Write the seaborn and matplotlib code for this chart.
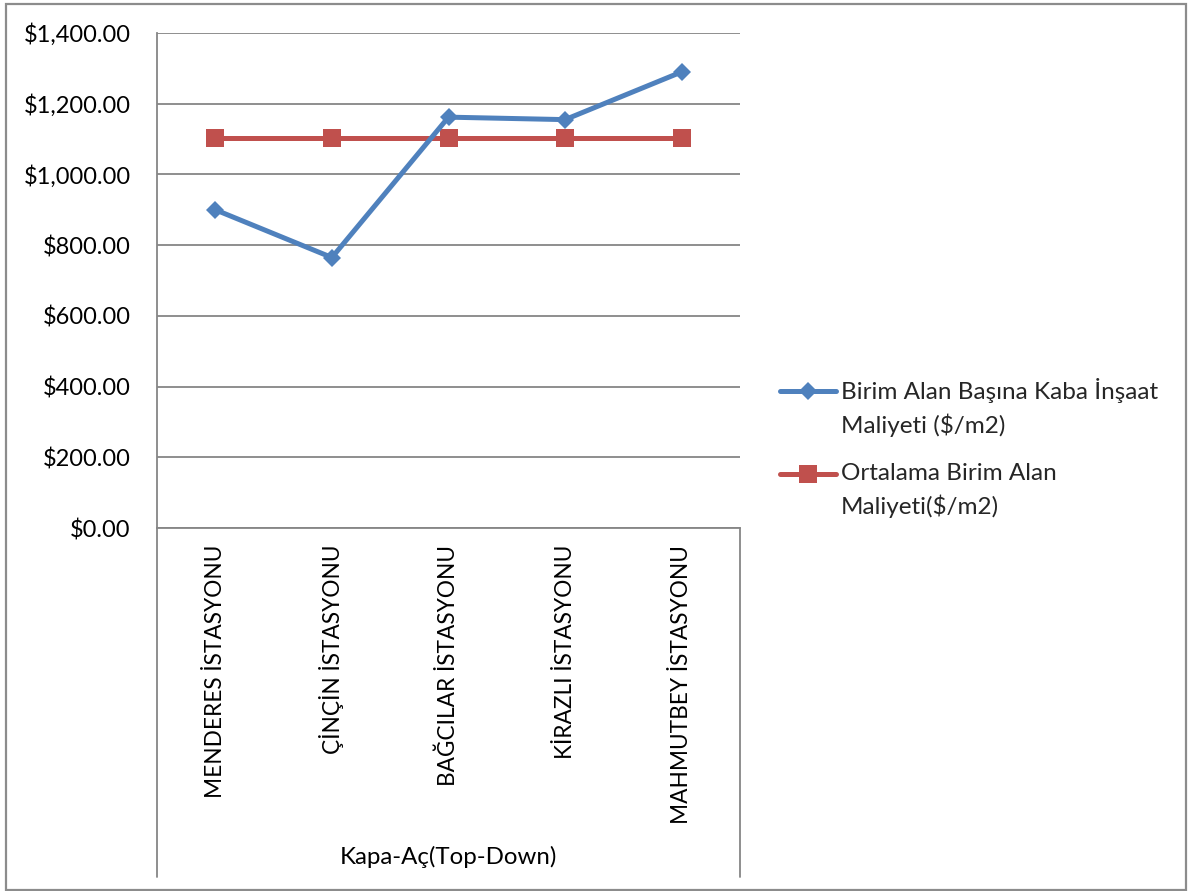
import matplotlib
matplotlib.use("Agg")
import matplotlib.pyplot as plt
import matplotlib.ticker as mticker
from matplotlib.lines import Line2D
from matplotlib.patches import Rectangle
from matplotlib.legend_handler import HandlerLine2D
import seaborn as sns

stations = ["MENDERES İSTASYONU", "ÇİNÇİN İSTASYONU", "BAĞCILAR İSTASYONU",
            "KİRAZLI İSTASYONU", "MAHMUTBEY İSTASYONU"]
unit_cost = [900, 765, 1162, 1155, 1290]
avg_cost = [1104, 1104, 1104, 1104, 1104]
series_names = ["Birim Alan Başına Kaba İnşaat\nMaliyeti ($/m2)",
                "Ortalama Birim Alan\nMaliyeti($/m2)"]
x_title = "Kapa-Aç(Top-Down)"
y_ticks = [0, 200, 400, 600, 800, 1000, 1200, 1400]

BLUE = "#4F81BD"
RED = "#C0504D"
GRID = "#868686"

sns.set_theme(style="white")
plt.rcParams["font.family"] = ["Lato", "DejaVu Sans"]

W, H = 1198, 891
fig = plt.figure(figsize=(W / 100, H / 100), dpi=100)
fig.patch.set_facecolor("white")

# plot area in pixel coordinates: x 157..740, y 33..528
left, right, top, bottom = 157, 740, 33, 528
ax = fig.add_axes([left / W, 1 - bottom / H, (right - left) / W, (bottom - top) / H])

sns.lineplot(x=stations, y=unit_cost, ax=ax, color=BLUE, lw=3.6, marker="D",
             markersize=9.5, markeredgewidth=0, label=series_names[0],
             zorder=4)
sns.lineplot(x=stations, y=avg_cost, ax=ax, color=RED, lw=3.6, marker="s",
             markersize=13.5, markeredgewidth=0, label=series_names[1],
             zorder=3)

ax.set_xlim(-0.5, len(stations) - 0.5)
ax.set_ylim(0, 1400)
ax.set_yticks(y_ticks)
ax.yaxis.set_major_formatter(mticker.FuncFormatter(lambda v, p: f"${v:,.2f}"))
ax.grid(axis="y", color=GRID, lw=1.3)
ax.grid(axis="x", visible=False)
ax.set_axisbelow(True)

for s in ["top", "right"]:
    ax.spines[s].set_visible(False)
for s in ["left", "bottom"]:
    ax.spines[s].set_color(GRID)
    ax.spines[s].set_linewidth(1.3)

ax.tick_params(axis="y", length=0, pad=19, labelsize=17, labelcolor="black")
ax.tick_params(axis="x", length=0, pad=12, labelsize=16.3, labelcolor="black")
for lab in ax.get_xticklabels():
    lab.set_rotation(90)
    lab.set_ha("center")
    lab.set_va("top")

ax.set_xlabel(x_title, fontsize=17.3, color="black")
ax.xaxis.set_label_coords(0.5, -(846 - bottom) / (bottom - top))
ax.set_ylabel("")

# category-axis box lines extending below the plot area
ext = -(877 - bottom) / (bottom - top)
for xv in (0.0, 1.0):
    ax.add_line(Line2D([xv, xv], [0, ext], transform=ax.transAxes, color=GRID,
                       lw=1.3, clip_on=False))


class FirstLineHandler(HandlerLine2D):
    """Legend handle aligned with the first line of a two-line label."""

    def __init__(self, shift, **kw):
        super().__init__(**kw)
        self.shift = shift

    def create_artists(self, legend, orig_handle, xdescent, ydescent, width,
                       height, fontsize, trans):
        return super().create_artists(legend, orig_handle, xdescent,
                                      ydescent - 2 * self.shift, width, height,
                                      fontsize, trans)


handles, labels = ax.get_legend_handles_labels()
ax.legend(handles, labels, loc="center left",
          bbox_to_anchor=(780 / W, 1 - 448 / H), bbox_transform=fig.transFigure,
          frameon=False, fontsize=17.5, borderpad=0, borderaxespad=0,
          handlelength=2.3, handletextpad=0.2, labelspacing=1.06,
          handler_map={h: FirstLineHandler(11.9) for h in handles})
for t in ax.get_legend().get_texts():
    t.set_linespacing(1.55)

# outer chart border
fig.add_artist(Rectangle((6 / W, 1 / H), 1180 / W, 886 / H,
                         transform=fig.transFigure, fill=False,
                         edgecolor="#8C8C8C", lw=1.6))

fig.savefig("out.png", dpi=100, facecolor="white")
